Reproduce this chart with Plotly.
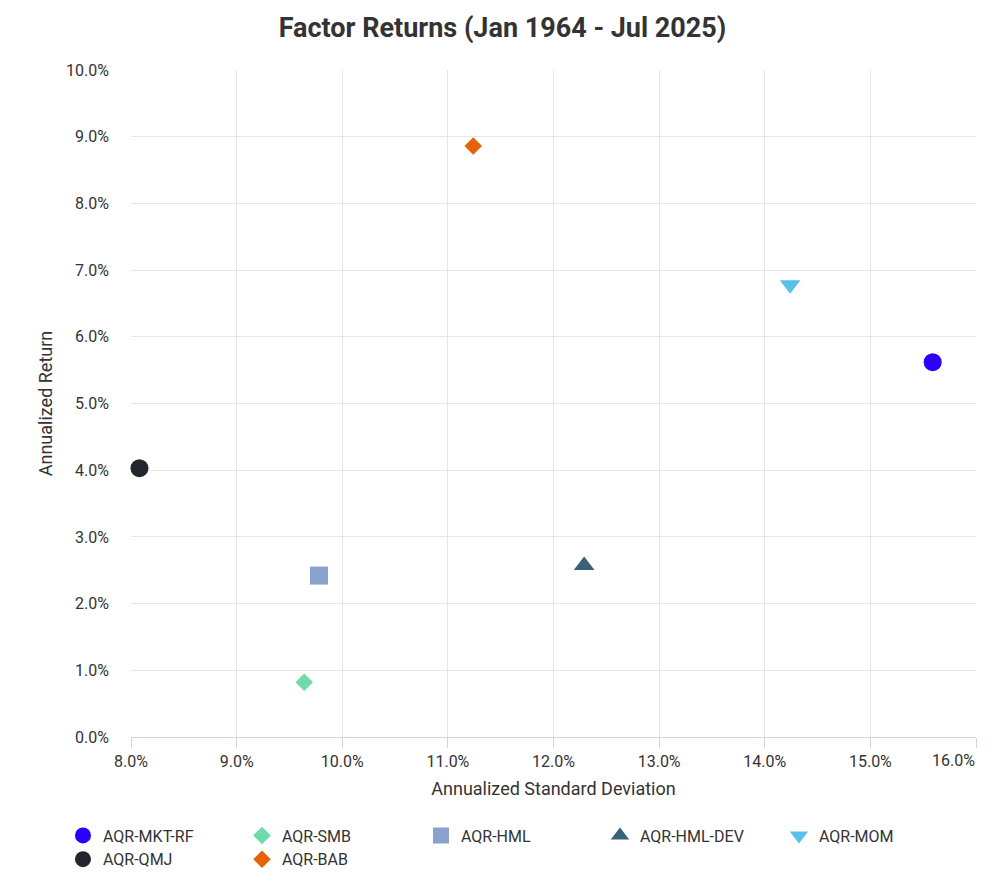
import plotly.graph_objects as go

names = ["AQR-MKT-RF", "AQR-SMB", "AQR-HML", "AQR-HML-DEV", "AQR-MOM", "AQR-QMJ", "AQR-BAB"]
std_dev = [15.59, 9.64, 9.78, 12.29, 14.24, 8.08, 11.24]
returns = [5.62, 0.82, 2.42, 2.57, 6.78, 4.03, 8.86]
colors = ["#2b00ff", "#6fdba8", "#87a2cc", "#3b617a", "#5bbfec", "#24262f", "#e5620a"]
symbols = ["circle", "diamond", "square", "triangle-up", "triangle-down", "circle", "diamond"]
sizes = [18, 13.5, 18, 18, 18, 18, 13.5]

x_ticks = [8, 9, 10, 11, 12, 13, 14, 15, 16]
y_ticks = [0, 1, 2, 3, 4, 5, 6, 7, 8, 9, 10]

fig = go.Figure()
for n, sx, ry, c, s, sz in zip(names, std_dev, returns, colors, symbols, sizes):
    fig.add_trace(go.Scatter(
        x=[sx], y=[ry], mode="markers", name=n,
        marker=dict(color=c, symbol=s, size=sz, line=dict(width=0)),
        cliponaxis=False,
    ))

x_text = [f"{v:.1f}%" for v in x_ticks]
last_label = x_text[-1]
x_text[-1] = ""  # last label is pulled inside the plot edge below

fig.add_annotation(
    x=x_ticks[-1], y=0, xref="x", yref="paper", xanchor="right", yanchor="top",
    text=last_label, showarrow=False, yshift=-12, xshift=1,
    font=dict(family="Roboto", size=16, color="#333333"),
)

fig.update_layout(
    width=978, height=878,
    paper_bgcolor="white", plot_bgcolor="white",
    font=dict(family="Roboto", size=16, color="#333333"),
    title=dict(text="<b>Factor Returns (Jan 1964 - Jul 2025)</b>", x=0.5056, xanchor="center",
               y=0.978, yanchor="middle", font=dict(family="Roboto", size=27, color="#333333")),
    margin=dict(l=123, r=10, t=62, b=145),
    showlegend=True,
    legend=dict(orientation="h", x=-0.0805, xanchor="left", y=-0.1222, yanchor="top",
                entrywidth=134, entrywidthmode="pixels", font=dict(size=16, color="#333333"),
                itemsizing="trace", tracegroupgap=0),
    xaxis=dict(
        range=[8, 16], tickvals=x_ticks, ticktext=x_text,
        showgrid=True, gridcolor="#e6e6e6", gridwidth=1, zeroline=False,
        showline=True, linecolor="#ccd6eb", linewidth=1,
        ticks="outside", ticklen=10, tickcolor="#ccd6eb",
        title=dict(text="Annualized Standard Deviation", font=dict(size=18, color="#333333"), standoff=12),
    ),
    yaxis=dict(
        range=[0, 10], tickvals=y_ticks, ticktext=[f"{v:.1f}%" for v in y_ticks],
        showgrid=True, gridcolor="#e6e6e6", gridwidth=1, zeroline=False,
        showline=False, ticks="", ticklabelstandoff=21,
        title=dict(text="Annualized Return", font=dict(size=18, color="#333333"), standoff=8),
    ),
)

fig.write_html("out.html")
